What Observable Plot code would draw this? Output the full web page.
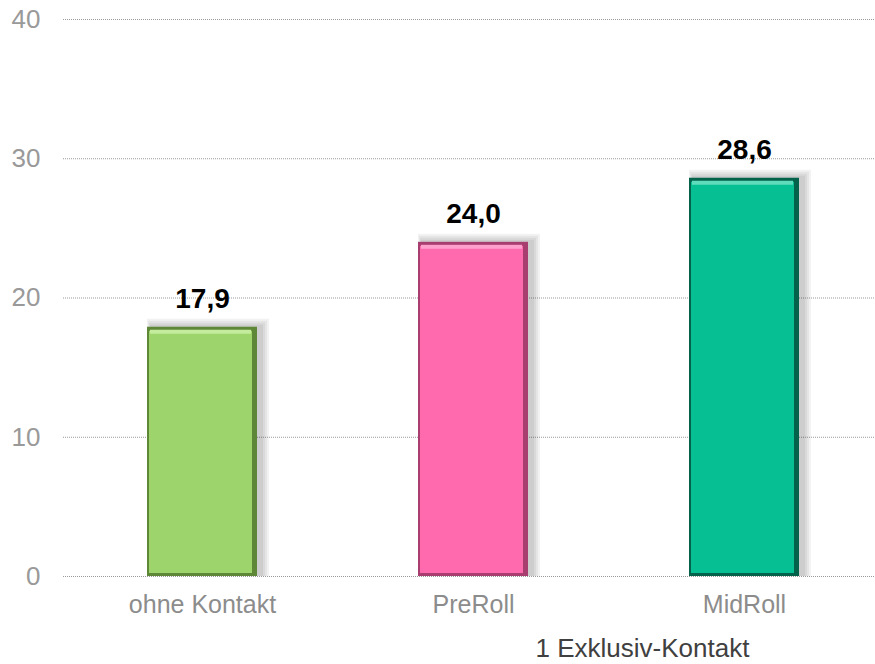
<!DOCTYPE html>
<html><head><meta charset="utf-8">
<script src="https://cdn.jsdelivr.net/npm/d3@7"></script>
<script src="https://cdn.jsdelivr.net/npm/@observablehq/plot@0.6"></script>
<style>body{margin:0;background:#fff;font-family:"Liberation Sans",Arial,sans-serif}</style>
</head><body><div id="chart"></div>
<script>
const categories = ["ohne Kontakt", "PreRoll", "MidRoll"];
const values = [17.9, 24.0, 28.6];
const labels = ["17,9", "24,0", "28,6"];
const yTicks = [0, 10, 20, 30, 40];
const mainColors = ["#9dd46b", "#ff69ad", "#06bf93"];
const edgeColors = ["#5e8838", "#a83d70", "#04614a"];
const lightColors = ["#c5ec9c", "#ff9fcb", "#5fdcbc"];
const caption = "1 Exklusiv-Kontakt";

const data = categories.map((c, i) => ({cat: c, v: values[i], label: labels[i], main: mainColors[i], edge: edgeColors[i], light: lightColors[i]}));
const shadowLayers = [2, 4, 6, 8];

const chart = Plot.plot({
  width: 875, height: 664,
  marginTop: 19, marginBottom: 88, marginLeft: 63, marginRight: 0,
  style: {fontFamily: "'Liberation Sans', Arial, sans-serif", background: "#fff"},
  x: {domain: categories, paddingInner: 0.595, paddingOuter: 0.293, align: 0.522, label: null, axis: null},
  y: {domain: [0, 40], ticks: yTicks, label: null, axis: null},
  marks: [
    Plot.ruleY(yTicks, {stroke: "#9a9a9a", strokeWidth: 1, strokeDasharray: "1,1"}),
    ...shadowLayers.map(s => Plot.barY(data, {x: "cat", y: "v", fill: "#000", fillOpacity: 0.05, dx: 4, insetLeft: -s / 2, insetRight: -s, insetTop: -s, insetBottom: 0})),
    Plot.barY(data, {x: "cat", y: "v", fill: "edge"}),
    Plot.barY(data, {x: "cat", y: "v", fill: "main", insetLeft: 2, insetRight: 5, insetTop: 4, insetBottom: 3}),
    Plot.barY(data, {x: "cat", y: "v", fill: "light", insetLeft: 3, insetRight: 6, insetTop: 3, y1: d => d.v, y2: d => d.v, insetBottom: -7}),
    Plot.text(data, {x: "cat", y: "v", text: "label", dy: -28, fill: "#000", fontWeight: "bold", fontSize: 28}),
    Plot.text(yTicks, {y: d => d, text: d => String(d), frameAnchor: "left", textAnchor: "end", dx: -23, fill: "#999", fontSize: 26}),
    Plot.text(categories, {x: d => d, text: d => d, frameAnchor: "bottom", dy: 36, fill: "#8c8c8c", fontSize: 25}),
    Plot.text([caption], {frameAnchor: "bottom", dx: 173, dy: 80, fill: "#404040", fontSize: 26})
  ]
});
document.getElementById("chart").append(chart);
</script></body></html>
